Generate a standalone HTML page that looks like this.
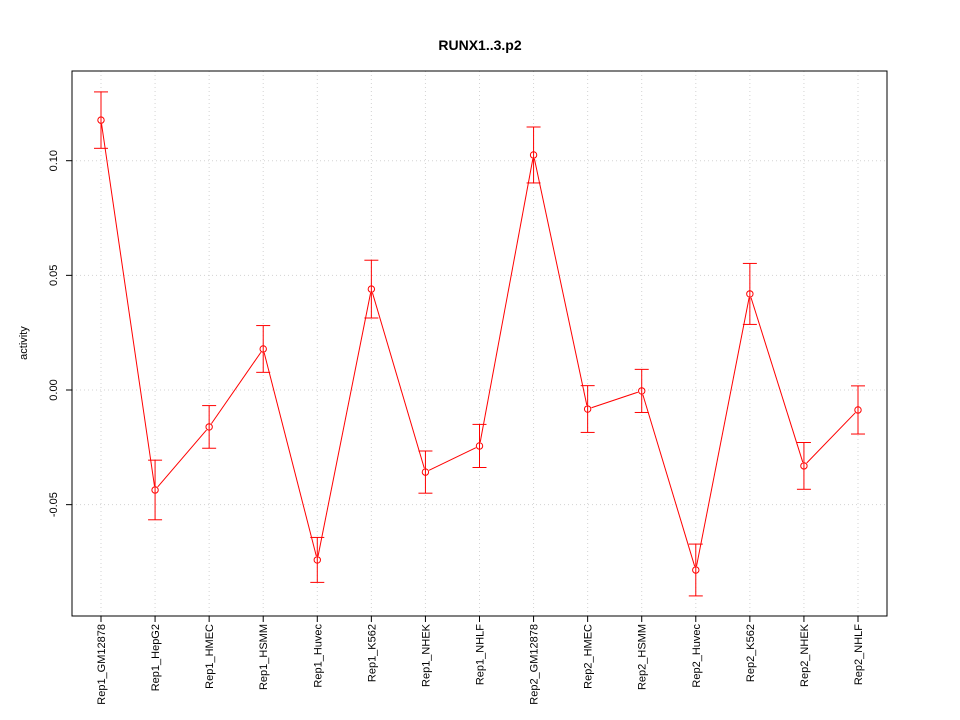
<!DOCTYPE html>
<html><head><meta charset="utf-8"><style>body{margin:0;background:#fff}svg{display:block;font-family:"Liberation Sans",sans-serif}</style></head>
<body>
<svg id="chart" width="960" height="720"></svg>
<script>
const categories=["Rep1_GM12878","Rep1_HepG2","Rep1_HMEC","Rep1_HSMM","Rep1_Huvec","Rep1_K562","Rep1_NHEK","Rep1_NHLF","Rep2_GM12878","Rep2_HMEC","Rep2_HSMM","Rep2_Huvec","Rep2_K562","Rep2_NHEK","Rep2_NHLF"];
const values=[0.1177,-0.0436,-0.0161,0.0179,-0.0741,0.044,-0.0358,-0.0244,0.1025,-0.0083,-0.0004,-0.0785,0.0419,-0.0331,-0.0087];
const errors=[0.0123,0.013,0.0093,0.0102,0.0098,0.0126,0.0092,0.0094,0.0122,0.0102,0.0094,0.0113,0.0133,0.0102,0.0105];
const yTicks=[-0.05,0,0.05,0.10];
const yTickLabels=["-0.05","0.00","0.05","0.10"];
const NS="http://www.w3.org/2000/svg";
const svg=document.getElementById('chart');
function el(t,a,p){const e=document.createElementNS(NS,t);for(const k in a)e.setAttribute(k,a[k]);(p||svg).appendChild(e);return e;}
const L=72,R=887,T=71,B=616;
const x=i=>101+i*(858-101)/(categories.length-1);
const y=v=>390-v*2293;
// grid
yTicks.forEach((v,i)=>{const g=el('line',{x1:L,x2:R,y1:y(v),y2:y(v),stroke:'#d3d3d3','stroke-dasharray':'1,3'});

});
categories.forEach((c,i)=>{const g=el('line',{x1:x(i),x2:x(i),y1:T,y2:B,stroke:'#d3d3d3','stroke-dasharray':'1,3'});

});
// frame
const f=el('rect',{x:L,y:T,width:R-L,height:B-T,fill:'none',stroke:'#000'});


// title
const tt=el('text',{x:480,y:50,'text-anchor':'middle','font-size':14,'font-weight':'bold'});tt.textContent='RUNX1..3.p2';


const yt=el('text',{x:0,y:0,transform:'translate(27,343) rotate(-90)','text-anchor':'middle','font-size':11});yt.textContent='activity';


// y axis ticks
yTicks.forEach((v,i)=>{el('line',{x1:L,x2:L-6,y1:y(v),y2:y(v),stroke:'#000'});
const t=el('text',{x:0,y:0,transform:`translate(57,${y(v)}) rotate(-90)`,'text-anchor':'middle','font-size':11});t.textContent=yTickLabels[i];

});
// x ticks
categories.forEach((c,i)=>{el('line',{x1:x(i),x2:x(i),y1:B,y2:B+6,stroke:'#000'});
const t=el('text',{x:0,y:0,transform:`translate(${x(i)+4},624) rotate(-90)`,'text-anchor':'end','font-size':11});t.textContent=c;

});
// lines with gaps
for(let i=0;i<values.length-1;i++){const x1=x(i),y1=y(values[i]),x2=x(i+1),y2=y(values[i+1]);const d=Math.hypot(x2-x1,y2-y1),r=4;
if(d>2*r){const ux=(x2-x1)/d,uy=(y2-y1)/d;const s=el('line',{x1:x1+ux*r,y1:y1+uy*r,x2:x2-ux*r,y2:y2-uy*r,stroke:'#ff0000'});

}}
// error bars & points
values.forEach((v,i)=>{const cx=x(i),top=y(v+errors[i]),bot=y(v-errors[i]);
const g=el('g',{stroke:'#ff0000',fill:'none'});


el('line',{x1:cx,x2:cx,y1:top,y2:bot},g);el('line',{x1:cx-7,x2:cx+7,y1:top,y2:top},g);el('line',{x1:cx-7,x2:cx+7,y1:bot,y2:bot},g);
const p=el('circle',{cx:cx,cy:y(v),r:3.2,stroke:'#ff0000',fill:'none'});

});
</script>
</body></html>
